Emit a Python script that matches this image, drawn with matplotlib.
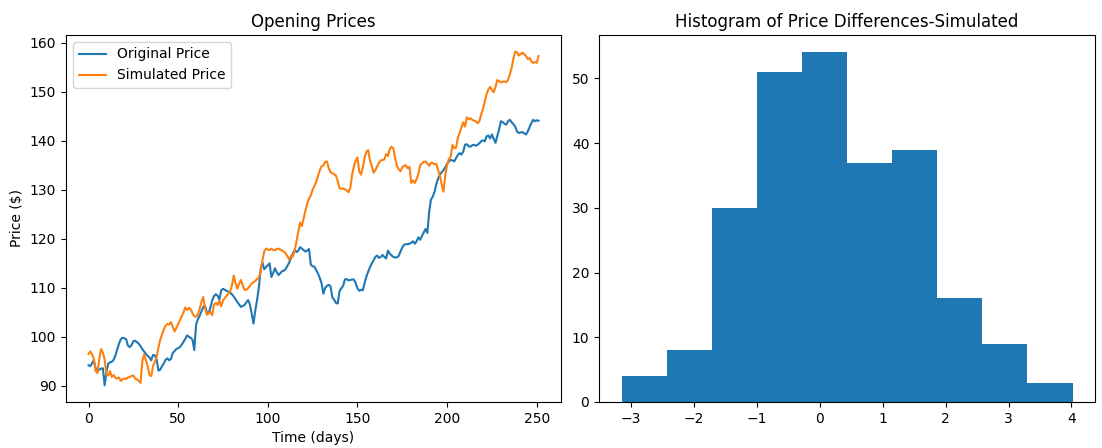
import numpy as np
import matplotlib
matplotlib.use("Agg")
import matplotlib.pyplot as plt

# opening prices, one value per trading day
original_price = [
    94.2, 94.0, 94.6, 95.2, 93.5, 93.1, 93.3, 93.5, 93.6, 90.1,
    92.8, 94.5, 94.8, 94.9, 95.3, 96.2, 97.4, 98.6, 99.5, 99.8,
    99.7, 99.5, 98.2, 97.9, 98.3, 99.1, 99.2, 98.9, 98.6, 98.1,
    97.5, 97.0, 96.5, 96.1, 95.8, 95.2, 96.3, 96.2, 95.4, 93.1,
    93.3, 94.0, 94.6, 95.3, 95.6, 95.2, 95.5, 96.7, 97.1, 97.5,
    97.7, 97.9, 98.4, 99.0, 99.6, 100.3, 100.0, 99.8, 99.4, 97.3,
    102.5, 103.6, 104.3, 105.2, 106.1, 106.3, 105.0, 104.8, 106.0, 107.4,
    108.3, 108.7, 108.4, 107.6, 109.5, 109.8, 109.6, 109.4, 109.2, 109.0,
    108.7, 108.2, 107.7, 107.1, 106.6, 106.1, 106.3, 106.5, 107.0, 107.5,
    106.6, 104.8, 102.7, 105.3, 107.5, 110.0, 113.8, 115.2, 113.8, 114.2,
    114.6, 115.0, 112.2, 113.0, 114.0, 113.2, 112.6, 113.0, 113.4, 113.5,
    113.9, 114.5, 115.2, 116.2, 117.0, 117.7, 117.3, 117.6, 118.3, 118.0,
    117.7, 117.4, 117.6, 117.9, 114.7, 114.4, 114.3, 113.6, 112.9, 112.0,
    110.9, 108.8, 110.0, 110.4, 110.6, 110.3, 108.0, 107.6, 106.9, 106.8,
    109.3, 109.9, 110.4, 111.7, 111.8, 111.5, 111.6, 111.7, 111.7, 111.0,
    109.9, 109.4, 109.6, 109.5, 111.0, 112.3, 113.3, 114.2, 115.0, 115.6,
    116.3, 116.6, 116.1, 116.3, 116.7, 116.3, 116.0, 117.6, 117.0, 116.6,
    116.3, 116.2, 116.2, 116.5, 117.4, 118.2, 118.8, 118.9, 118.9, 119.0,
    119.2, 119.5, 119.0, 119.5, 120.3, 119.8, 120.6, 121.3, 122.0, 121.2,
    125.5, 128.0, 128.6, 129.6, 131.2, 132.3, 133.1, 133.6, 134.0, 134.6,
    135.3, 135.8, 136.1, 136.0, 135.8, 136.5, 137.1, 137.5, 137.2, 137.8,
    139.2, 139.3, 138.9, 138.8, 139.1, 139.2, 139.0, 139.2, 139.5, 139.9,
    140.1, 139.9, 140.9, 141.1, 140.5, 141.3, 140.4, 139.6, 141.0, 142.3,
    144.0, 143.8, 143.5, 143.3, 144.0, 144.3, 143.8, 143.4, 142.9, 141.9,
    141.6, 141.7, 141.8, 141.5, 141.3, 141.9, 142.8, 143.6, 144.3, 144.0,
    144.2, 144.1,
]

simulated_price = [
    96.5, 97.0, 96.4, 95.4, 93.0, 92.6, 95.5, 97.5, 96.8, 95.4,
    92.3, 92.1, 93.0, 91.8, 92.2, 91.6, 91.5, 91.7, 91.0, 91.3,
    91.5, 91.4, 91.7, 91.8, 92.0, 92.1, 91.5, 91.3, 91.0, 90.6,
    95.0, 96.4, 95.2, 94.0, 92.2, 92.0, 94.0, 95.0, 95.9, 97.8,
    99.4, 100.5, 101.5, 102.3, 102.6, 102.5, 103.0, 102.0, 101.1, 101.8,
    102.6, 103.4, 104.2, 105.0, 106.0, 105.5, 105.9, 105.6, 104.8, 104.2,
    104.1, 104.6, 105.7, 107.2, 108.1, 105.8, 104.5, 104.8, 105.1, 104.4,
    106.6, 106.9, 106.5, 107.4, 106.2, 107.4, 107.9, 108.4, 108.8, 109.3,
    110.5, 112.5, 111.0, 109.8, 110.8, 111.6, 110.5, 109.6, 109.6, 109.9,
    110.4, 110.9, 111.1, 111.4, 111.8, 112.1, 113.2, 115.6, 117.4, 118.0,
    117.8, 117.7, 118.0, 117.7, 117.7, 117.9, 118.0, 117.8, 117.6, 117.4,
    117.0, 116.4, 115.7, 116.6, 116.4, 117.6, 119.5, 121.5, 123.3, 122.6,
    124.2, 125.8, 127.2, 128.2, 128.9, 130.0, 130.8, 131.6, 132.8, 134.0,
    134.8, 135.0, 135.7, 135.8, 134.4, 133.6, 133.4, 133.2, 132.9, 131.8,
    130.3, 130.2, 130.3, 130.1, 129.9, 129.5, 130.4, 133.0, 134.8, 136.0,
    136.6, 133.8, 133.1, 134.5, 136.6, 137.8, 138.1, 136.0, 134.8, 133.5,
    134.0, 134.8, 135.5, 136.0, 136.1, 136.2, 137.3, 136.9, 138.3, 138.8,
    138.5, 136.5, 134.9, 134.2, 133.8, 134.6, 134.9, 135.0, 134.4, 134.7,
    131.4, 131.9, 131.4, 132.2, 133.3, 135.0, 135.4, 135.7, 135.8, 135.4,
    134.9, 135.5, 135.5, 135.2, 135.3, 134.0, 132.9, 131.0, 129.6, 133.0,
    135.0, 136.3, 136.7, 139.2, 138.5, 138.6, 140.6, 141.6, 142.8, 143.8,
    142.9, 144.8, 144.4, 144.6, 144.3, 144.1, 144.0, 143.6, 144.0, 145.4,
    146.5, 148.0, 149.5, 150.5, 151.0, 150.4, 149.9, 151.0, 152.4, 152.2,
    151.9, 152.1, 152.1, 152.0, 152.4, 153.6, 154.9, 156.8, 158.2, 158.1,
    157.4, 157.7, 158.0, 157.7, 157.3, 156.7, 156.9, 156.2, 155.9, 156.1,
    155.9, 157.3,
]

# histogram of simulated price differences
bin_edges = [-3.153, -2.436, -1.719, -1.002, -0.285, 0.432,
             1.149, 1.866, 2.583, 3.300, 4.017]
bin_counts = [4, 8, 30, 51, 54, 37, 39, 16, 9, 3]

days = np.arange(len(original_price))

fig = plt.figure(figsize=(11.02, 4.48), dpi=100)
ax1 = fig.add_axes([0.0599, 0.1027, 0.4492, 0.8192])
ax2 = fig.add_axes([0.5436, 0.1027, 0.4501, 0.8192])

ax1.plot(days, original_price, label="Original Price")
ax1.plot(days, simulated_price, label="Simulated Price")
ax1.set_title("Opening Prices")
ax1.set_xlabel("Time (days)")
ax1.set_ylabel("Price ($)")
ax1.legend(loc="upper left")

edges = np.array(bin_edges)
centers = (edges[:-1] + edges[1:]) / 2
ax2.hist(centers, bins=edges, weights=bin_counts)
ax2.set_title("Histogram of Price Differences-Simulated")

fig.savefig("out.png", dpi=100)
